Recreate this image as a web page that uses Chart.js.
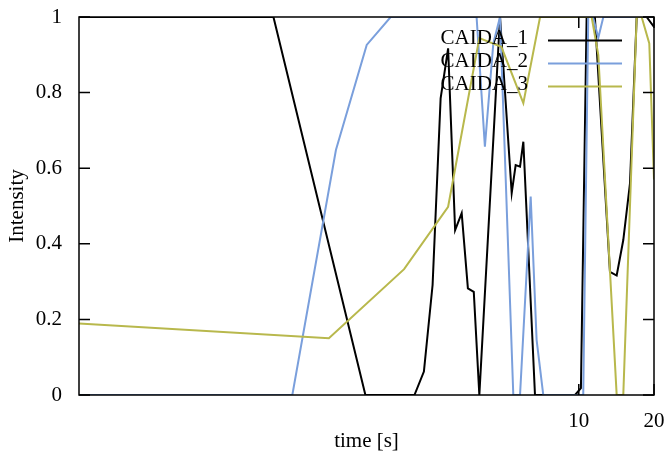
<!DOCTYPE html>
<html>
<head>
<meta charset="utf-8">
<script src="https://cdn.jsdelivr.net/npm/chart.js@4.4.1/dist/chart.umd.min.js"></script>
<style>
  html, body { margin: 0; padding: 0; background: #fff; }
  #wrap { width: 664px; height: 459px; }
</style>
</head>
<body>
<div id="wrap"><canvas id="intensityChart"></canvas></div>
<script>
// ---- data ----
const seriesLabels = ['CAIDA_1', 'CAIDA_2', 'CAIDA_3'];
const seriesColors = ['#000000', '#7a9fdc', '#b8b84c'];

const time1 = [0.1, 0.6, 1.4, 2.2, 2.4, 2.6, 2.8, 3.0, 3.2, 3.4, 3.6, 3.8, 4.0, 4.84, 5.39, 5.59, 5.82, 6.0, 6.68, 9.66, 10.2, 10.75, 11.6, 13.33, 14.18, 15.07, 16.03, 17.05, 18.69, 20];
const int1  = [1, 1, 0, 0, 0.062, 0.291, 0.785, 0.917, 0.436, 0.481, 0.282, 0.273, 0, 1, 0.534, 0.608, 0.604, 0.670, 0, 0, 0.018, 1, 1, 0.326, 0.316, 0.41, 0.56, 1, 1, 0.974];

const time2 = [0.1, 0.714, 1.067, 1.417, 1.767, 3.9, 4.21, 4.55, 4.84, 5.47, 5.82, 6.42, 6.78, 7.21, 10.42, 10.91, 11.4, 11.97, 12.54, 20];
const int2  = [0, 0, 0.648, 0.926, 1, 1, 0.657, 0.93, 1, 0, 0, 0.525, 0.146, 0, 0, 1, 1, 0.945, 1, 1];

const time3 = [0.1, 1.0, 2.0, 3.0, 4.0, 4.9, 6.0, 7.0, 11.26, 11.97, 14.18, 15.07, 17.05, 17.85, 19.15, 20];
const int3  = [0.189, 0.150, 0.333, 0.498, 0.944, 0.921, 0.772, 1, 1, 0.90, 0, 0, 1, 1, 0.93, 0.57];

const xTickValues = [10, 20];
const yTickValues = [0, 0.2, 0.4, 0.6, 0.8, 1];

const FONT = { family: '"Liberation Serif", "DejaVu Serif", serif', size: 21 };

function toPoints(xs, ys) {
  return xs.map((x, i) => ({ x: x, y: ys[i] }));
}

// gnuplot-style frame with inward ticks + key in the top right
const framePlugin = {
  id: 'frame',
  afterDatasetsDraw(chart) {
    const { ctx, chartArea: a, scales } = chart;
    const tick = 11;
    ctx.save();
    ctx.strokeStyle = '#000';
    ctx.lineWidth = 1.5;
    ctx.strokeRect(a.left, a.top, a.right - a.left, a.bottom - a.top);
    ctx.beginPath();
    yTickValues.forEach(v => {
      const y = scales.y.getPixelForValue(v);
      ctx.moveTo(a.left, y); ctx.lineTo(a.left + tick, y);
      ctx.moveTo(a.right, y); ctx.lineTo(a.right - tick, y);
    });
    xTickValues.forEach(v => {
      const x = scales.x.getPixelForValue(v);
      ctx.moveTo(x, a.bottom); ctx.lineTo(x, a.bottom - tick);
      ctx.moveTo(x, a.top); ctx.lineTo(x, a.top + tick);
    });
    ctx.stroke();

    // key
    ctx.font = FONT.size + 'px ' + FONT.family;
    ctx.textAlign = 'right';
    ctx.textBaseline = 'middle';
    chart.data.datasets.forEach((ds, i) => {
      const y = 40.5 + i * 23;
      ctx.fillStyle = '#000';
      ctx.fillText(ds.label, 528, y - 2);
      ctx.strokeStyle = ds.borderColor;
      ctx.lineWidth = 2;
      ctx.beginPath();
      ctx.moveTo(548, y); ctx.lineTo(622, y);
      ctx.stroke();
    });
    ctx.restore();
  }
};

new Chart(document.getElementById('intensityChart'), {
  type: 'line',
  data: {
    datasets: [
      { label: seriesLabels[0], data: toPoints(time1, int1), borderColor: seriesColors[0], order: 3 },
      { label: seriesLabels[1], data: toPoints(time2, int2), borderColor: seriesColors[1], order: 2 },
      { label: seriesLabels[2], data: toPoints(time3, int3), borderColor: seriesColors[2], order: 1 }
    ]
  },
  options: {
    responsive: true,
    maintainAspectRatio: false,
    animation: false,
    parsing: false,
    layout: { padding: { top: 17, right: 10, bottom: 0, left: 0 } },
    elements: {
      line: { borderWidth: 2, tension: 0, fill: false },
      point: { radius: 0 }
    },
    plugins: {
      legend: { display: false },
      tooltip: { enabled: false }
    },
    scales: {
      x: {
        type: 'logarithmic',
        min: 0.1,
        max: 20,
        afterBuildTicks: scale => { scale.ticks = xTickValues.map(v => ({ value: v })); },
        afterFit: scale => {
          scale.height = 64;
          scale.paddingLeft = 0;
          scale.paddingRight = 0;
        },
        grid: { display: false, drawTicks: false },
        border: { display: false },
        ticks: {
          color: '#000',
          font: FONT,
          padding: 14,
          maxRotation: 0,
          autoSkip: false,
          callback: val => String(val)
        },
        title: {
          display: true,
          text: 'time [s]',
          color: '#000',
          font: FONT,
          padding: { top: 0, bottom: 5 }
        }
      },
      y: {
        min: 0,
        max: 1,
        afterBuildTicks: scale => { scale.ticks = yTickValues.map(v => ({ value: v })); },
        afterFit: scale => {
          scale.width = 79;
          scale.paddingTop = 0;
          scale.paddingBottom = 0;
        },
        grid: { display: false, drawTicks: false },
        border: { display: false },
        ticks: {
          color: '#000',
          font: FONT,
          padding: 17,
          callback: val => String(Math.round(val * 10) / 10)
        },
        title: {
          display: true,
          text: 'Intensity',
          color: '#000',
          font: FONT,
          padding: { top: 5, bottom: 0 }
        }
      }
    }
  },
  plugins: [framePlugin]
});
</script>
</body>
</html>
